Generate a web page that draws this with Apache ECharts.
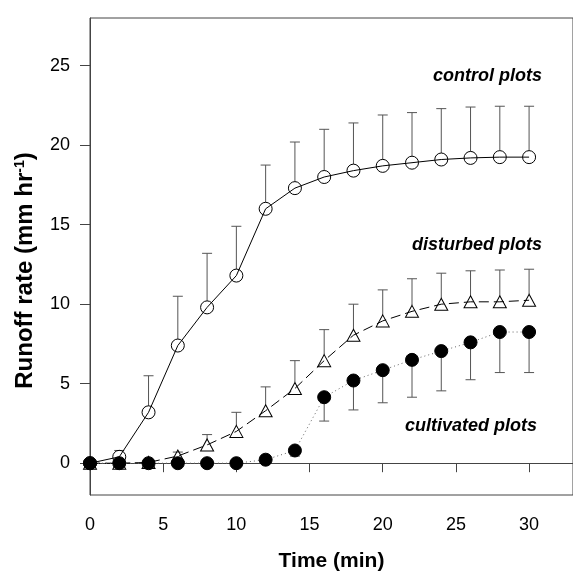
<!DOCTYPE html>
<html><head><meta charset="utf-8">
<script src="https://cdn.jsdelivr.net/npm/echarts@6/dist/echarts.min.js"></script>
<style>html,body{margin:0;padding:0;background:#fff}#c{width:573px;height:577px}</style>
</head><body><div id="c"></div>
<script>
const time = [0, 2, 4, 6, 8, 10, 12, 14, 16, 18, 20, 22, 24, 26, 28, 30];
const control = [0, 0.4, 3.2, 7.4, 9.8, 11.8, 16.0, 17.3, 18.0, 18.4, 18.7, 18.9, 19.1, 19.2, 19.25, 19.25];
const controlUpper = [0, 0.8, 5.5, 10.5, 13.2, 14.9, 18.75, 20.2, 21.0, 21.4, 21.9, 22.05, 22.3, 22.4, 22.45, 22.45];
const disturbed = [0, 0, 0.05, 0.45, 1.15, 2.0, 3.3, 4.7, 6.45, 8.05, 8.95, 9.55, 10.0, 10.15, 10.15, 10.25];
const disturbedUpper = [0, 0, 0.1, 0.7, 1.8, 3.2, 4.8, 6.45, 8.4, 10.0, 10.9, 11.6, 11.95, 12.1, 12.15, 12.2];
const cultivated = [0, 0, 0, 0, 0, 0, 0.22, 0.8, 4.15, 5.2, 5.85, 6.5, 7.05, 7.6, 8.25, 8.25];
const cultivatedLower = [0, 0, 0, 0, 0, 0, 0.22, 0.45, 2.65, 3.35, 3.8, 4.15, 4.55, 5.25, 5.7, 5.7];
const xTicks = [0, 5, 10, 15, 20, 25, 30];
const yTicks = [0, 5, 10, 15, 20, 25];
const labels = ['control plots', 'disturbed plots', 'cultivated plots'];

const FONT = '"Liberation Sans", Arial, Helvetica, sans-serif';
const chart = echarts.init(document.getElementById('c'), null, {renderer: 'canvas'});

function errSeries(name, means, bounds, z, gap) {
  return {
    type: 'custom', name: name, z: z, silent: true,
    data: time.map((t, i) => [t, means[i], bounds[i]]),
    encode: {x: 0, y: [1, 2]},
    renderItem: function (params, api) {
      const p0 = api.coord([api.value(0), api.value(1)]);
      const p1 = api.coord([api.value(0), api.value(2)]);
      const len = Math.abs(p1[1] - p0[1]);
      if (len < 1) return null;
      const dir = p1[1] < p0[1] ? -1 : 1;
      const children = [];
      if (len > gap) {
        children.push({type: 'line', shape: {x1: p0[0], y1: p0[1] + dir * gap, x2: p1[0], y2: p1[1]},
          style: {stroke: '#555', lineWidth: 1}});
      }
      children.push({type: 'line', shape: {x1: p1[0] - 5, y1: p1[1], x2: p1[0] + 5, y2: p1[1]},
        style: {stroke: '#555', lineWidth: 1}});
      return {type: 'group', children: children};
    }
  };
}

const option = {
  animation: false,
  backgroundColor: '#fff',
  grid: {left: 90, top: 18, width: 484, height: 483, show: true, borderColor: '#444', borderWidth: 1, containLabel: false},
  xAxis: {
    type: 'value', min: 0, max: 33,
    name: 'Time (min)', nameLocation: 'middle', nameGap: 56,
    nameTextStyle: {fontSize: 21, fontWeight: 'bold', fontFamily: FONT, color: '#000'},
    axisLine: {show: true, lineStyle: {color: '#444', width: 1}},
    axisTick: {show: true, inside: false, length: 9, lineStyle: {color: '#444'}, customValues: xTicks},
    axisLabel: {fontSize: 18, fontFamily: FONT, color: '#000', margin: 21, customValues: xTicks},
    splitLine: {show: false}
  },
  yAxis: {
    type: 'value', min: -2, max: 28,
    name: '{t|Runoff rate (mm hr}{s|-1}{t|)}', nameLocation: 'middle', nameGap: 53,
    nameTextStyle: {
      fontSize: 24, fontWeight: 'bold', fontFamily: FONT, color: '#000', padding: [0, 28, 0, 0],
      rich: {
        t: {fontSize: 24, fontWeight: 'bold', fontFamily: FONT, color: '#000'},
        s: {fontSize: 14, fontWeight: 'bold', fontFamily: FONT, color: '#000', verticalAlign: 'top'}
      }
    },
    axisLine: {show: true, lineStyle: {color: '#444', width: 1}},
    axisTick: {show: true, inside: false, length: 10, lineStyle: {color: '#444'}, customValues: yTicks},
    axisLabel: {fontSize: 18, fontFamily: FONT, color: '#000', margin: 20, customValues: yTicks},
    splitLine: {show: false}
  },
  series: [
    errSeries('control err', control, controlUpper, 2, 6.5),
    errSeries('disturbed err', disturbed, disturbedUpper, 2, 6),
    errSeries('cultivated err', cultivated, cultivatedLower, 2, 0),
    {
      type: 'line', name: labels[0], z: 3,
      data: time.map((t, i) => [t, control[i]]),
      symbol: 'circle', symbolSize: 13, showAllSymbol: true,
      lineStyle: {color: '#000', width: 1, type: 'solid'},
      itemStyle: {color: 'rgba(0,0,0,0)', borderColor: '#000', borderWidth: 1}
    },
    {
      type: 'line', name: labels[1], z: 4,
      data: time.map((t, i) => [t, disturbed[i]]),
      symbol: 'triangle', symbolSize: [13, 12], showAllSymbol: true,
      lineStyle: {color: '#000', width: 1, type: [10, 5]},
      itemStyle: {color: 'rgba(0,0,0,0)', borderColor: '#000', borderWidth: 1}
    },
    {
      type: 'line', name: labels[2], z: 5,
      data: time.map((t, i) => [t, cultivated[i]]),
      symbol: 'circle', symbolSize: 13, showAllSymbol: true,
      lineStyle: {color: '#666', width: 1, type: [1, 3]},
      itemStyle: {color: '#000', borderColor: '#000', borderWidth: 1}
    }
  ],
  graphic: [
    {type: 'text', right: 31, top: 67, style: {text: labels[0], font: 'italic bold 18px ' + FONT, fill: '#000'}},
    {type: 'text', right: 31, top: 236, style: {text: labels[1], font: 'italic bold 18px ' + FONT, fill: '#000'}},
    {type: 'text', right: 36, top: 417, style: {text: labels[2], font: 'italic bold 18px ' + FONT, fill: '#000'}}
  ]
};
chart.setOption(option);
</script>
</body></html>
